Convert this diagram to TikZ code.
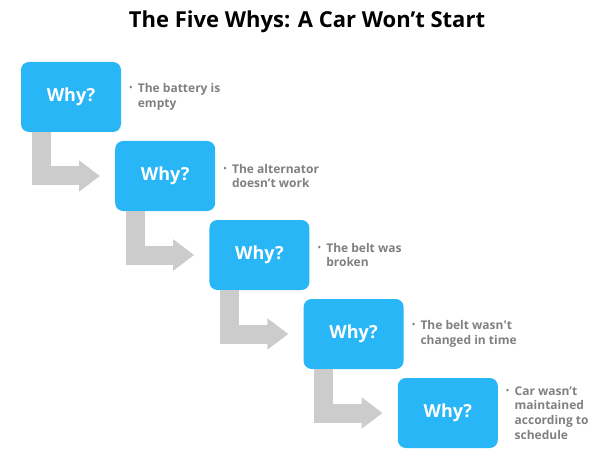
\documentclass[tikz,border=0pt]{standalone}
\usepackage{fontspec}
\setmainfont{Open Sans}
\usepackage{tikz}
\usetikzlibrary{arrows.meta,positioning}

\definecolor{whyblue}{RGB}{41,182,246}
\definecolor{flowgray}{RGB}{204,204,204}
\definecolor{notegray}{RGB}{128,128,128}

\newcommand{\dotmark}{\makebox[8.5pt][l]{\raisebox{2pt}{\footnotesize\textbullet}}}
\newcommand{\hangmark}{\hspace*{8.5pt}}

\begin{document}
\begin{tikzpicture}[x=1pt,y=-1pt,
  why/.style={fill=whyblue,rounded corners=8pt,minimum width=100pt,minimum height=70pt,
    text=white,font=\fontsize{18}{22}\selectfont\bfseries},
  note/.style={inner sep=0pt,align=left,text=notegray,font=\fontsize{12}{14.7}\selectfont\bfseries},
  flow/.style={draw=flowgray,line width=19pt,line join=miter,
    -{Triangle[width=30pt,length=21pt]},shorten >=15pt}]

  \useasboundingbox (0,0) rectangle (593,454);

  % title
  \node[font=\fontsize{22}{26}\selectfont\bfseries,anchor=base] (title) at (307,28)
    {The Five Whys: A Car Won’t Start};

  % the five questions and their answers
  \foreach \i/\txt in {1/{\dotmark The battery is\\\hangmark empty},
                       2/{\dotmark The alternator\\\hangmark doesn’t work},
                       3/{\dotmark The belt was\\\hangmark broken},
                       4/{\dotmark The belt wasn\textquotesingle t\\\hangmark changed in time},
                       5/{\dotmark Car wasn’t\\\hangmark maintained\\\hangmark according to\\\hangmark schedule}} {
    \node[why] (w\i) at ({71+94.2*(\i-1)},{97+79*(\i-1)}) {Why?};
    \node[note,right=8pt of w\i] (n\i) {\txt};
  }

  % bent arrows
  \foreach \i [count=\j from 2] in {1,...,4} {
    \draw[flow] ([xshift=20.5pt]w\i.south west) |- (w\j.west);
  }

\end{tikzpicture}
\end{document}
